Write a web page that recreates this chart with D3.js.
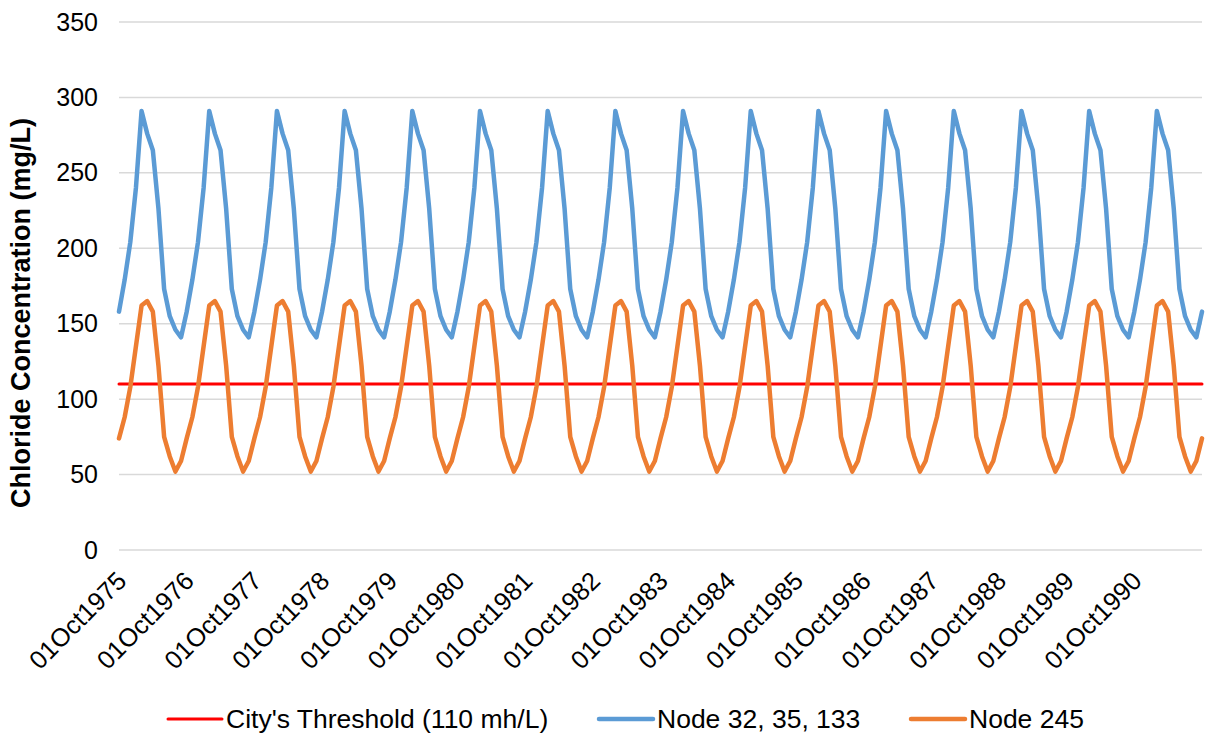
<!DOCTYPE html>
<html>
<head>
<meta charset="utf-8">
<script src="https://cdn.jsdelivr.net/npm/d3@7"></script>
<style>
  html, body { margin: 0; padding: 0; background: #fff; }
  svg { display: block; font-family: "Liberation Sans", Arial, sans-serif; }
</style>
</head>
<body>
<svg id="chart" width="1206" height="736"></svg>
<script>
// Monthly chloride concentration (mg/L), 01Oct1975 .. 01Oct1991.
// Each row is one water year, Oct..Sep; the final value is 01Oct1991.
const node32_35_133 = [
  158, 179, 204, 240, 291, 276, 265, 226, 173, 155, 146, 141,
  158, 179, 204, 240, 291, 276, 265, 226, 173, 155, 146, 141,
  158, 179, 204, 240, 291, 276, 265, 226, 173, 155, 146, 141,
  158, 179, 204, 240, 291, 276, 265, 226, 173, 155, 146, 141,
  158, 179, 204, 240, 291, 276, 265, 226, 173, 155, 146, 141,
  158, 179, 204, 240, 291, 276, 265, 226, 173, 155, 146, 141,
  158, 179, 204, 240, 291, 276, 265, 226, 173, 155, 146, 141,
  158, 179, 204, 240, 291, 276, 265, 226, 173, 155, 146, 141,
  158, 179, 204, 240, 291, 276, 265, 226, 173, 155, 146, 141,
  158, 179, 204, 240, 291, 276, 265, 226, 173, 155, 146, 141,
  158, 179, 204, 240, 291, 276, 265, 226, 173, 155, 146, 141,
  158, 179, 204, 240, 291, 276, 265, 226, 173, 155, 146, 141,
  158, 179, 204, 240, 291, 276, 265, 226, 173, 155, 146, 141,
  158, 179, 204, 240, 291, 276, 265, 226, 173, 155, 146, 141,
  158, 179, 204, 240, 291, 276, 265, 226, 173, 155, 146, 141,
  158, 179, 204, 240, 291, 276, 265, 226, 173, 155, 146, 141,
  158
];
const node245 = [
  74, 88, 108, 135, 162, 165, 158, 122, 75, 62, 52, 59,
  74, 88, 108, 135, 162, 165, 158, 122, 75, 62, 52, 59,
  74, 88, 108, 135, 162, 165, 158, 122, 75, 62, 52, 59,
  74, 88, 108, 135, 162, 165, 158, 122, 75, 62, 52, 59,
  74, 88, 108, 135, 162, 165, 158, 122, 75, 62, 52, 59,
  74, 88, 108, 135, 162, 165, 158, 122, 75, 62, 52, 59,
  74, 88, 108, 135, 162, 165, 158, 122, 75, 62, 52, 59,
  74, 88, 108, 135, 162, 165, 158, 122, 75, 62, 52, 59,
  74, 88, 108, 135, 162, 165, 158, 122, 75, 62, 52, 59,
  74, 88, 108, 135, 162, 165, 158, 122, 75, 62, 52, 59,
  74, 88, 108, 135, 162, 165, 158, 122, 75, 62, 52, 59,
  74, 88, 108, 135, 162, 165, 158, 122, 75, 62, 52, 59,
  74, 88, 108, 135, 162, 165, 158, 122, 75, 62, 52, 59,
  74, 88, 108, 135, 162, 165, 158, 122, 75, 62, 52, 59,
  74, 88, 108, 135, 162, 165, 158, 122, 75, 62, 52, 59,
  74, 88, 108, 135, 162, 165, 158, 122, 75, 62, 52, 59,
  74
];
const threshold = 110;

const monthNames = ["Oct", "Nov", "Dec", "Jan", "Feb", "Mar", "Apr", "May", "Jun", "Jul", "Aug", "Sep"];
const firstYear = 1975;
const categories = node32_35_133.map((_, i) => {
  const m = i % 12;
  const yr = firstYear + Math.floor(i / 12) + (m >= 3 ? 1 : 0);
  return "01" + monthNames[m] + yr;
});
const tickLabels = ["01Oct1975", "01Oct1976", "01Oct1977", "01Oct1978", "01Oct1979", "01Oct1980",
  "01Oct1981", "01Oct1982", "01Oct1983", "01Oct1984", "01Oct1985", "01Oct1986",
  "01Oct1987", "01Oct1988", "01Oct1989", "01Oct1990"];
const yTicks = [0, 50, 100, 150, 200, 250, 300, 350];

const seriesInfo = [
  { name: "City's Threshold (110 mh/L)", color: "#FF0000", width: 3 },
  { name: "Node 32, 35, 133", color: "#5B9BD5", width: 4.5 },
  { name: "Node 245", color: "#ED7D31", width: 4.5 }
];

const svg = d3.select("#chart");
const plot = { left: 119, right: 1202, top: 22, bottom: 550 };

const x = d3.scalePoint()
  .domain(categories)
  .range([plot.left, plot.right]);
const y = d3.scaleLinear().domain([0, 350]).range([plot.bottom, plot.top]);

// horizontal gridlines
svg.append("g")
  .selectAll("line")
  .data(yTicks)
  .join("line")
  .attr("x1", plot.left).attr("x2", plot.right)
  .attr("y1", d => y(d)).attr("y2", d => y(d))
  .attr("stroke", "#d9d9d9").attr("stroke-width", 1.5);

// y axis labels
const yAxis = d3.axisLeft(y).tickValues(yTicks).tickSize(0).tickPadding(21);
const yg = svg.append("g").attr("transform", `translate(${plot.left},0)`).call(yAxis);
yg.select(".domain").remove();
yg.selectAll("text").attr("font-size", 25).attr("fill", "#000")
  .attr("font-family", "'Liberation Sans', Arial, sans-serif");

// x axis labels, rotated 45 degrees
const labelSet = new Set(tickLabels);
const xAxis = d3.axisBottom(x).tickValues(categories.filter(c => labelSet.has(c))).tickSize(0);
const xg = svg.append("g").attr("transform", `translate(0,${plot.bottom})`).call(xAxis);
xg.select(".domain").remove();
xg.selectAll("text")
  .attr("font-size", 25.5).attr("fill", "#000")
  .attr("font-family", "'Liberation Sans', Arial, sans-serif")
  .attr("text-anchor", "end")
  .attr("dy", "0.35em")
  .attr("transform", "translate(0,24) rotate(-45)");

// y axis title
svg.append("text")
  .attr("transform", "translate(30,313) rotate(-90)")
  .attr("text-anchor", "middle")
  .attr("font-size", 27).attr("font-weight", "bold")
  .text("Chloride Concentration (mg/L)");

// series lines
const line = d3.line().x((d, i) => x(categories[i])).y(d => y(d));
const thresholdSeries = categories.map(() => threshold);
const seriesData = [thresholdSeries, node32_35_133, node245];

svg.append("g")
  .selectAll("path")
  .data(seriesData)
  .join("path")
  .attr("d", line)
  .attr("fill", "none")
  .attr("stroke", (d, i) => seriesInfo[i].color)
  .attr("stroke-width", (d, i) => seriesInfo[i].width)
  .attr("stroke-linejoin", "round")
  .attr("stroke-linecap", "round");

// legend
const legendX = [168, 599, 911];
const legend = svg.append("g").attr("transform", "translate(0,719)");
const items = legend.selectAll("g").data(seriesInfo).join("g")
  .attr("transform", (d, i) => `translate(${legendX[i]},0)`);
items.append("line")
  .attr("x1", 0).attr("x2", 54).attr("y1", 0).attr("y2", 0)
  .attr("stroke", d => d.color)
  .attr("stroke-width", d => d.width)
  .attr("stroke-linecap", "round");
items.append("text")
  .attr("x", 58).attr("dy", "0.35em")
  .attr("font-size", 26.5)
  .text(d => d.name);
</script>
</body>
</html>
